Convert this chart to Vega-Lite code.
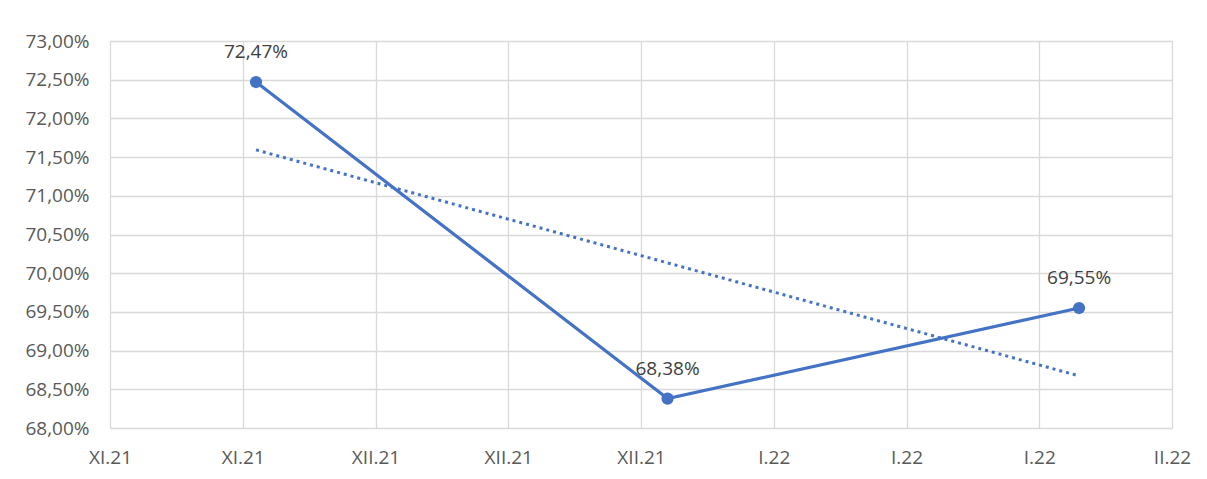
{
  "$schema": "https://vega.github.io/schema/vega-lite/v6.json",
  "autosize": "none",
  "padding": {"left": 110, "top": 41, "right": 35, "bottom": 51},
  "width": 1062,
  "height": 387,
  "background": "white",
  "config": {
    "locale": {"number": {"decimal": ",", "thousands": " ", "grouping": [3], "currency": ["", " €"]}},
    "view": {"stroke": null},
    "font": "Open Sans",
    "axis": {
      "domain": false,
      "ticks": false,
      "grid": true,
      "gridColor": "#d9d9d9",
      "gridWidth": 1.3,
      "labelFont": "Open Sans",
      "labelFontSize": 19,
      "labelColor": "#595959",
      "labelBound": false,
      "title": null
    }
  },
  "data": {
    "values": [
      {"date": "2021-11-30", "value": 0.7247},
      {"date": "2021-12-31", "value": 0.6838},
      {"date": "2022-01-31", "value": 0.6955}
    ]
  },
  "encoding": {
    "x": {
      "field": "date",
      "type": "temporal",
      "scale": {
        "type": "utc",
        "domain": [
          {"year": 2021, "month": 11, "date": 19, "utc": true},
          {"year": 2022, "month": 2, "date": 7, "utc": true}
        ]
      },
      "axis": {
        "values": [
          {"year": 2021, "month": 11, "date": 19, "utc": true},
          {"year": 2021, "month": 11, "date": 29, "utc": true},
          {"year": 2021, "month": 12, "date": 9, "utc": true},
          {"year": 2021, "month": 12, "date": 19, "utc": true},
          {"year": 2021, "month": 12, "date": 29, "utc": true},
          {"year": 2022, "month": 1, "date": 8, "utc": true},
          {"year": 2022, "month": 1, "date": 18, "utc": true},
          {"year": 2022, "month": 1, "date": 28, "utc": true},
          {"year": 2022, "month": 2, "date": 7, "utc": true}
        ],
        "labelExpr": "['I','II','III','IV','V','VI','VII','VIII','IX','X','XI','XII'][utcmonth(datum.value)] + '.' + utcFormat(datum.value, '%y')",
        "labelPadding": 20,
        "labelOverlap": false,
        "labelFlush": false
      }
    },
    "y": {
      "field": "value",
      "type": "quantitative",
      "scale": {"domain": [0.68, 0.73], "nice": false, "zero": false},
      "axis": {
        "values": [0.68, 0.685, 0.69, 0.695, 0.70, 0.705, 0.71, 0.715, 0.72, 0.725, 0.73],
        "format": ".2%",
        "labelOverlap": false,
        "labelPadding": 21
      }
    }
  },
  "layer": [
    {
      "transform": [{"regression": "value", "on": "date"}],
      "mark": {"type": "line", "color": "#4472C4", "strokeWidth": 3, "strokeDash": [3, 4]}
    },
    {
      "mark": {"type": "line", "color": "#4472C4", "strokeWidth": 3.2, "point": {"filled": true, "size": 150, "color": "#4472C4", "opacity": 1}}
    },
    {
      "mark": {"type": "text", "dy": -30, "baseline": "middle", "align": "center", "fontSize": 19, "font": "Open Sans", "color": "#404040"},
      "encoding": {
        "text": {"field": "value", "type": "quantitative", "format": ".2%"}
      }
    }
  ]
}
